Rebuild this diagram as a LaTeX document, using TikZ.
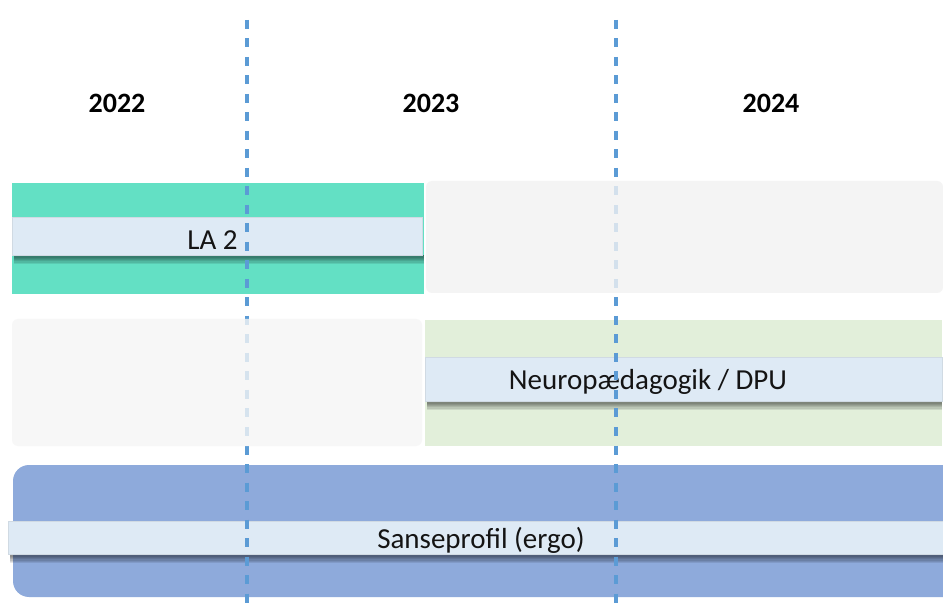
\documentclass[tikz,border=0pt]{standalone}
\usepackage{fontspec}
\setmainfont{Carlito}
\definecolor{dashblue}{RGB}{91,155,213}
\definecolor{teal2}{RGB}{99,224,196}
\definecolor{lightgreen}{RGB}{226,239,218}
\definecolor{barblue}{RGB}{142,170,219}
\definecolor{labelfill}{RGB}{222,234,245}
\definecolor{grayone}{RGB}{242,242,242}
\definecolor{graytwo}{RGB}{245,245,245}
\definecolor{textdark}{RGB}{20,20,20}
\tikzset{
  yearlabel/.style={font=\fontsize{28}{30}\selectfont\bfseries, text=black},
  bartext/.style={font=\fontsize{29}{31}\selectfont, text=textdark},
  divider/.style={draw=dashblue, line width=3.2pt, dash pattern=on 9pt off 9.5pt},
  graybar/.style={rounded corners=6pt, fill opacity=0.8},
  labelbar/.style={fill=labelfill, draw=labelfill!85!gray, line width=0.4pt},
}
\newcommand{\shadowbar}[3]{% x1, x2, ybottom
  \foreach \k in {1,...,7} {
    \fill[black, opacity=0.09] (#1+2,#3) rectangle (#2+2,#3+\k*1.3);
  }
}
\begin{document}
\begin{tikzpicture}[x=1pt,y=-1pt]
\useasboundingbox (0,0) rectangle (943,612);
\fill[white] (0,0) rectangle (943,612);

% year labels
\node[yearlabel] (y22) at (117,103) {2022};
\node[yearlabel] (y23) at (431,103) {2023};
\node[yearlabel] (y24) at (771,103) {2024};

% row 1
\fill[teal2] (12,183) rectangle (424,294);
% row 2
\fill[lightgreen] (425,320) rectangle (942,446);
% row 3
\fill[barblue, rounded corners=16pt] (13,465) rectangle (960,597);
\fill[white] (943,455) rectangle (970,605);

% label bars with shadows
\shadowbar{12}{422}{255}
\draw[labelbar] (12,217) rectangle (422,255);
\node[bartext] (la2) at (212.5,240) {LA 2};

\shadowbar{425}{940}{401}
\draw[labelbar] (425,357) rectangle (942,401);
\node[bartext] (neuro) at (648,382) {Neuropædagogik / DPU};

\shadowbar{8}{943}{554}
\draw[labelbar] (8,521) rectangle (950,554);
\node[bartext] (sanse) at (481,540) {Sanseprofil (ergo)};

% dashed dividers
\coordinate (d1t) at (247,20);
\coordinate (d1b) at (247,612);
\coordinate (d2t) at (616,20);
\coordinate (d2b) at (616,612);
\draw[divider] (d1t) -- (d1b);
\draw[divider] (d2t) -- (d2b);

% gray placeholders (partly covering the dividers)
\fill[grayone, graybar] (426,181) rectangle (943,293);
\fill[graytwo, graybar] (12,319) rectangle (422,446);
\end{tikzpicture}
\end{document}
